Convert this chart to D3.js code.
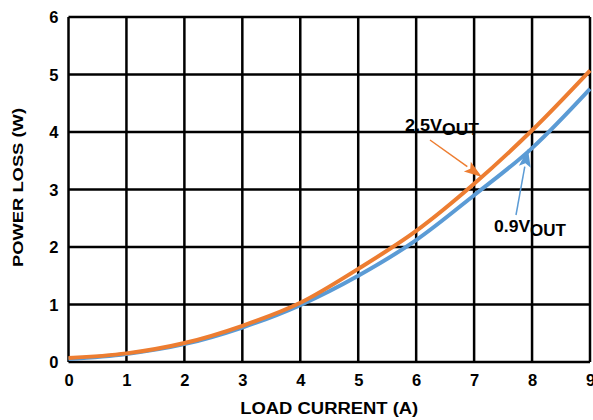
<!DOCTYPE html>
<html>
<head>
<meta charset="utf-8">
<script src="https://cdn.jsdelivr.net/npm/d3@7"></script>
<style>
  html, body { margin: 0; padding: 0; background: #fff; }
  svg { display: block; }
  text { font-family: "Liberation Sans", Arial, sans-serif; font-weight: bold; fill: #000; }
</style>
</head>
<body>
<svg id="chart" width="593" height="420"></svg>
<script>
// Load current (A) on the x axis
const loadCurrent = [0, 1, 2, 3, 4, 5, 6, 7, 8, 9];
// Power loss (W) for each output voltage
const loss25V = [0.07, 0.15, 0.33, 0.63, 1.03, 1.62, 2.28, 3.10, 4.03, 5.07];
const loss09V = [0.05, 0.14, 0.31, 0.60, 0.99, 1.50, 2.12, 2.90, 3.72, 4.75];
const xTicks = [0, 1, 2, 3, 4, 5, 6, 7, 8, 9];
const yTicks = [0, 1, 2, 3, 4, 5, 6];

const svg = d3.select("#chart");
const margin = { left: 68.5, right: 3, top: 17, bottom: 58 };
const W = 593, H = 420;

const x = d3.scaleLinear().domain([0, 9]).range([margin.left, W - margin.right]);
const y = d3.scaleLinear().domain([0, 6]).range([H - margin.bottom, margin.top]);

// grid
const grid = svg.append("g").attr("stroke", "#000").attr("stroke-width", 2.5);
grid.selectAll("line.v").data(xTicks).join("line")
  .attr("x1", d => x(d)).attr("x2", d => x(d))
  .attr("y1", y(0)).attr("y2", y(6));
grid.selectAll("line.h").data(yTicks).join("line")
  .attr("y1", d => y(d)).attr("y2", d => y(d))
  .attr("x1", x(0)).attr("x2", x(9));

// tick labels via axes (no domain/tick lines)
const xAxis = svg.append("g")
  .attr("transform", `translate(0,${y(0)})`)
  .call(d3.axisBottom(x).tickValues(xTicks).tickFormat(d3.format("d")).tickSize(0).tickPadding(12));
const yAxis = svg.append("g")
  .attr("transform", `translate(${x(0)},0)`)
  .call(d3.axisLeft(y).tickValues(yTicks).tickFormat(d3.format("d")).tickSize(0).tickPadding(10));
[xAxis, yAxis].forEach(a => {
  a.select(".domain").remove();
  a.selectAll("text").attr("font-size", 16.5).attr("font-family", "Liberation Sans, Arial, sans-serif").attr("font-weight", "bold").attr("fill", "#000");
});
yAxis.selectAll("text").attr("dy", "0.35em");

// axis titles
svg.append("text")
  .attr("x", (x(0) + x(9)) / 2).attr("y", 414)
  .attr("text-anchor", "middle").attr("font-size", 16)
  .attr("textLength", 178).attr("lengthAdjust", "spacingAndGlyphs")
  .text("LOAD CURRENT (A)");
svg.append("text")
  .attr("transform", `translate(23,${(y(0) + y(6)) / 2 - 2}) rotate(-90)`)
  .attr("text-anchor", "middle").attr("font-size", 15)
  .attr("textLength", 159).attr("lengthAdjust", "spacingAndGlyphs")
  .text("POWER LOSS (W)");

// curves
const line = d3.line().x(d => x(d[0])).y(d => y(d[1])).curve(d3.curveMonotoneX);
svg.append("path")
  .datum(loadCurrent.map((c, i) => [c, loss09V[i]]))
  .attr("fill", "none").attr("stroke", "#5B9BD5").attr("stroke-width", 4)
  .attr("d", line);
svg.append("path")
  .datum(loadCurrent.map((c, i) => [c, loss25V[i]]))
  .attr("fill", "none").attr("stroke", "#ED7D31").attr("stroke-width", 4)
  .attr("d", line);

// annotation arrows
function arrow(x1, y1, x2, y2, color) {
  const ang = Math.atan2(y2 - y1, x2 - x1);
  const len = 18, half = 6;
  const bx = x2 - len * Math.cos(ang), by = y2 - len * Math.sin(ang);
  svg.append("line")
    .attr("x1", x1).attr("y1", y1).attr("x2", bx).attr("y2", by)
    .attr("stroke", color).attr("stroke-width", 1.5);
  const px = -Math.sin(ang) * half, py = Math.cos(ang) * half;
  svg.append("path")
    .attr("d", `M${x2},${y2}L${bx + px},${by + py}L${bx + len * 0.2 * Math.cos(ang)},${by + len * 0.2 * Math.sin(ang)}L${bx - px},${by - py}Z`)
    .attr("fill", color);
}
arrow(430, 140, 482, 177, "#ED7D31");
arrow(516, 215, 528, 149, "#5B9BD5");

// labels
function label(xp, yp, main, sub, width) {
  const t = svg.append("text").attr("x", xp).attr("y", yp).attr("font-size", 16.5);
  const a = t.append("tspan").text(main);
  const b = t.append("tspan").attr("dy", 4).attr("font-size", 16).text(sub);
  // stretch the whole label to its drawn width
  t.attr("textLength", width).attr("lengthAdjust", "spacingAndGlyphs");
}
label(405, 131, "2.5V", "OUT", 74);
label(494, 232, "0.9V", "OUT", 72);
</script>
</body>
</html>
